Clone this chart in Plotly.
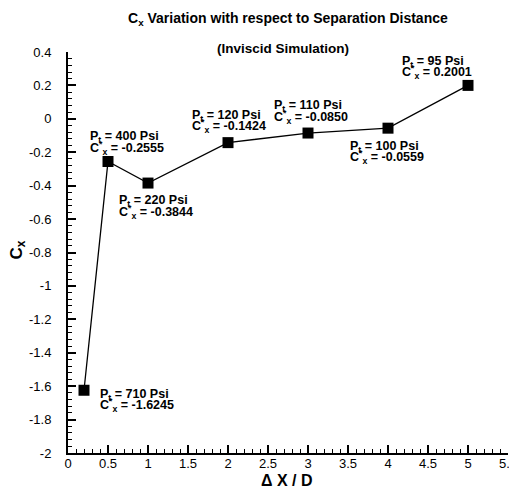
import plotly.graph_objects as go

dx = [0.2, 0.5, 1, 2, 3, 4, 5]
cx = [-1.6245, -0.2555, -0.3844, -0.1424, -0.0850, -0.0559, 0.2001]
pressures = ["710", "400", "220", "120", "110", "100", "95"]
cx_text = ["-1.6245", "-0.2555", "-0.3844", "-0.1424", "-0.0850", "-0.0559", "0.2001"]
y_ticks = [0.4, 0.2, 0, -0.2, -0.4, -0.6, -0.8, -1, -1.2, -1.4, -1.6, -1.8, -2]
x_ticks = [0, 0.5, 1, 1.5, 2, 2.5, 3, 3.5, 4, 4.5, 5, 5.5]

# label offsets in pixels from each point: (xshift of left edge, dy line1, dy line2)
placement = [
    (14, -3, -15),
    (-20, 27, 14),
    (-31, -16, -29),
    (-38, 29, 17),
    (-36, 29, 16),
    (-40, -17, -29),
    (-68, 25, 13),
]

fig = go.Figure()
fig.add_trace(go.Scatter(
    x=dx, y=cx, mode="lines+markers",
    line=dict(color="black", width=1.3),
    marker=dict(symbol="square", size=11, color="black"),
    showlegend=False,
))

font_main = "Liberation Sans, Arial, sans-serif"
lab_font = dict(family=font_main, size=12.5, color="black")
for xv, yv, p, c, (xs, d1, d2) in zip(dx, cx, pressures, cx_text, placement):
    fig.add_annotation(
        x=xv, y=yv, xref="x", yref="y", showarrow=False,
        text=f"<b>P<sub>t</sub> = {p} Psi</b>",
        xanchor="left", yanchor="middle", xshift=xs, yshift=d1 - 2,
        font=lab_font,
    )
    fig.add_annotation(
        x=xv, y=yv, xref="x", yref="y", showarrow=False,
        text=f"<b>C<sup>*</sup><sub>x</sub> = {c}</b>",
        xanchor="left", yanchor="middle", xshift=xs, yshift=d2,
        font=lab_font,
    )

fig.add_annotation(
    x=0.5, y=1, xref="paper", yref="paper", showarrow=False,
    text="<b>C<sub>x</sub> Variation with respect to Separation Distance</b>",
    xanchor="center", yanchor="middle", yshift=33,
    font=dict(family=font_main, size=14, color="black"),
)
fig.add_annotation(
    x=0.5, y=1, xref="paper", yref="paper", showarrow=False,
    text="<b>(Inviscid Simulation)</b>",
    xanchor="center", yanchor="middle", yshift=4, xshift=-5,
    font=dict(family=font_main, size=13.5, color="black"),
)
# axis titles
fig.add_annotation(
    x=0.5, y=0, xref="paper", yref="paper", showarrow=False,
    text="<b>\u0394 X / D</b>",
    xanchor="center", yanchor="middle", yshift=-27, xshift=-1,
    font=dict(family=font_main, size=16, color="black"),
)
fig.add_annotation(
    x=0, y=0.5, xref="paper", yref="paper", showarrow=False,
    text="<b>C<sub>x</sub></b>", textangle=-90,
    xanchor="center", yanchor="middle", xshift=-51, yshift=2,
    font=dict(family=font_main, size=17, color="black"),
)

fig.update_xaxes(
    range=[0, 5.5], tickvals=x_ticks, ticktext=[str(v) for v in x_ticks],
    ticks="inside", ticklen=8, tickwidth=1.5, tickcolor="black",
    minor=dict(dtick=0.1, ticklen=4, tickwidth=1, tickcolor="black", ticks="inside"),
    showline=True, linecolor="black", linewidth=2, mirror=False,
    showgrid=False, zeroline=False, automargin=False,
    tickfont=dict(family=font_main, size=13, color="black"),
    ticklabelstandoff=-3, ticklabeloverflow="allow",
)
fig.update_yaxes(
    range=[-2, 0.4], tickvals=y_ticks, ticktext=[str(v) for v in y_ticks],
    ticks="inside", ticklen=8, tickwidth=1.5, tickcolor="black",
    minor=dict(dtick=0.04, ticklen=4, tickwidth=1, tickcolor="black", ticks="inside"),
    showline=True, linecolor="black", linewidth=2, mirror=False,
    showgrid=False, zeroline=False, automargin=False,
    tickfont=dict(family=font_main, size=13, color="black"),
    ticklabelstandoff=12, ticklabeloverflow="allow",
)

fig.update_layout(
    width=509, height=482,
    margin=dict(l=60, r=9, t=44, b=37),
    paper_bgcolor="white", plot_bgcolor="white",
    font=dict(family=font_main, color="black"),
)

fig.write_html("out.html")
